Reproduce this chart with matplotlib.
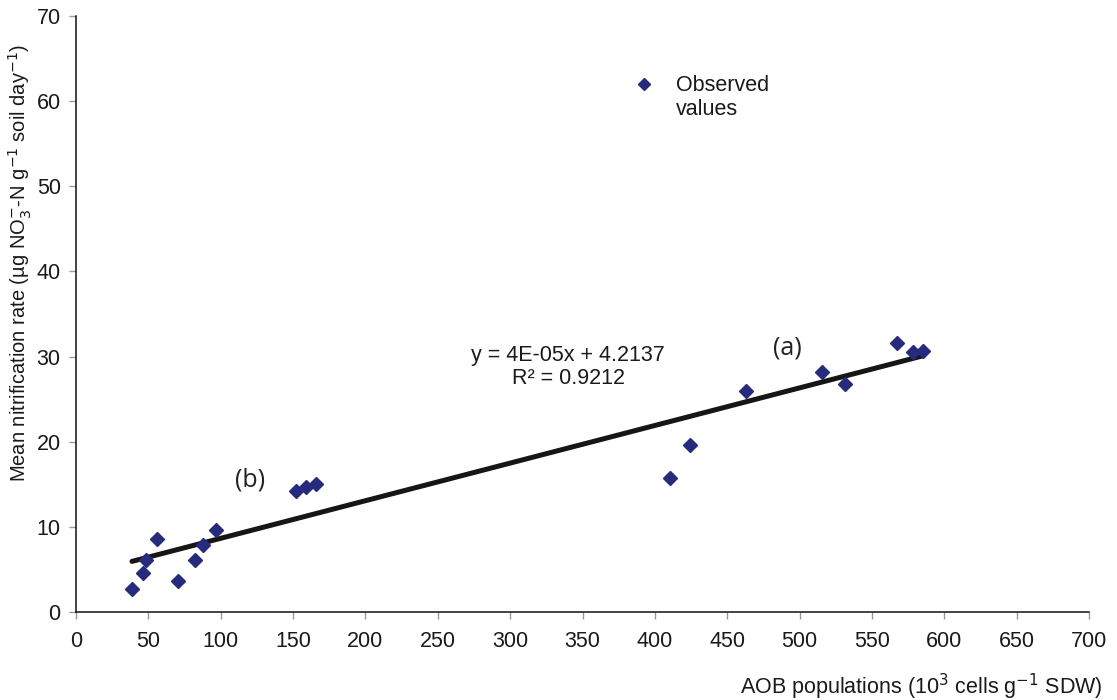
import numpy as np
import matplotlib.pyplot as plt

plt.rcParams['font.family'] = ['Liberation Sans', 'DejaVu Sans']

# AOB populations (10^3 cells/g SDW) and mean nitrification rates
aob = [38.7, 46.3, 48.3, 55.9, 70.4, 82.1, 87.7, 96.6,
       151.9, 158.8, 165.7,
       410.7, 424.5, 463.2, 515.7, 531.5, 567.4, 578.5, 585.4]
rate = [2.7, 4.6, 6.1, 8.5, 3.6, 6.1, 7.9, 9.6,
        14.2, 14.7, 15.0,
        15.7, 19.6, 26.0, 28.2, 26.8, 31.6, 30.5, 30.6]

# linear trend (slope per 10^3 cells)
slope = 0.0442
intercept = 4.2137
r2 = 0.9212

xticks = list(range(0, 701, 50))
yticks = list(range(0, 71, 10))

fig = plt.figure(figsize=(11.17, 7.0), dpi=100)
ax = fig.add_axes([0.068, 0.126, 0.907, 0.851])

xl = np.array([min(aob), max(aob)])
ax.plot(xl, slope * xl + intercept, color='#161616', lw=3.6,
        solid_capstyle='round', zorder=2)
ax.plot(aob, rate, ls='none', marker='D', ms=7, color='#262b7d',
        zorder=3)

ax.set_xlim(0, 700)
ax.set_ylim(0, 70)
ax.set_xticks(xticks)
ax.set_yticks(yticks)
ax.tick_params(axis='both', direction='out', length=5, width=1,
               color='#999999', labelsize=15.5, labelcolor='#1a1a1a')
ax.tick_params(axis='x', pad=9)
ax.tick_params(axis='y', pad=6)
for s in ['top', 'right']:
    ax.spines[s].set_visible(False)
for s in ['left', 'bottom']:
    ax.spines[s].set_linewidth(1.1)
    ax.spines[s].set_color('#111111')

# legend entry
ax.plot([392.7], [62.0], ls='none', marker='D', ms=6.5, color='#262b7d')
ax.text(414.8, 63.1, 'Observed\nvalues', fontsize=15.5, color='#1a1a1a',
        va='top', ha='left', linespacing=1.2)

ax.text(340, 28.8, 'y = 4E-05x + 4.2137\nR² = %.4f' % r2, fontsize=15.5,
        color='#1a1a1a', ha='center', va='center', linespacing=1.15)
ax.text(491.4, 31.0, '(a)', fontsize=18, family=['Open Sans', 'DejaVu Sans'],
        color='#222222', ha='center', va='center')
ax.text(120, 15.5, '(b)', fontsize=18, family=['Open Sans', 'DejaVu Sans'],
        color='#222222', ha='center', va='center')

fig.text(0.9875, 0.008, 'AOB populations (10$^{3}$ cells g$^{-1}$ SDW)',
         fontsize=15.5, color='#1a1a1a', ha='right', va='baseline')
fig.text(0.018, 0.625,
         'Mean nitrification rate (µg NO$_{3}^{-}$-N g$^{-1}$ soil day$^{-1}$)',
         fontsize=14.5, color='#1a1a1a', rotation=90, ha='center', va='center')

fig.savefig('out.png', dpi=100)
